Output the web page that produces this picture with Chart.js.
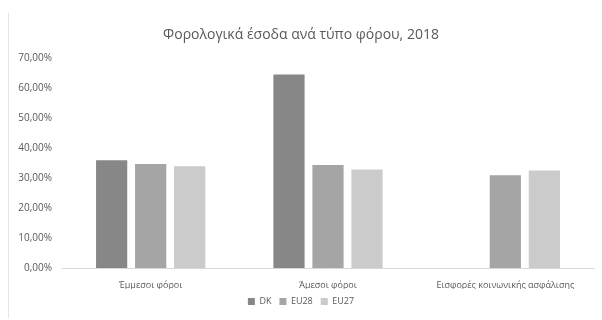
<!DOCTYPE html>
<html>
<head>
<meta charset="utf-8">
<script src="https://cdn.jsdelivr.net/npm/chart.js@4/dist/chart.umd.min.js"></script>
<style>
  html, body { margin: 0; padding: 0; background: #fff; }
  #wrap { position: relative; width: 602px; height: 320px; }
  #edge { position: absolute; left: 8px; top: 13px; width: 1px; height: 305px; background: #e6e6e6; }
  canvas { position: absolute; left: 0; top: 0; }
</style>
</head>
<body>
<div id="wrap">
  <div id="edge"></div>
  <canvas id="taxChart" width="602" height="320"></canvas>
</div>
<script>
'use strict';

// ── Data ─────────────────────────────────────────────────────
const categories = ['Έμμεσοι φόροι', 'Άμεσοι φόροι', 'Εισφορές κοινωνικής ασφάλισης'];
const seriesNames = ['DK', 'EU28', 'EU27'];
const dkValues   = [35.9, 64.4, null];
const eu28Values = [34.6, 34.3, 30.9];
const eu27Values = [33.9, 32.8, 32.5];
const yTicks = [0, 10, 20, 30, 40, 50, 60, 70];

const colors = ['#878787', '#a5a5a5', '#cbcbcb'];
const textGrey = '#595959';
const fontFamily = '"Open Sans", "Noto Sans", sans-serif';

const fmtPct = v => v.toFixed(2).replace('.', ',') + '%';

// ── Chart ────────────────────────────────────────────────────
const ctx = document.getElementById('taxChart');
new Chart(ctx, {
  type: 'bar',
  data: {
    labels: categories,
    datasets: [dkValues, eu28Values, eu27Values].map((data, i) => ({
      label: seriesNames[i],
      data,
      backgroundColor: colors[i],
      borderWidth: 0,
      categoryPercentage: 0.66,
      barPercentage: 0.8
    }))
  },
  options: {
    responsive: false,
    animation: false,
    layout: { padding: { left: 8, right: 8, top: 0, bottom: 4 } },
    scales: {
      x: {
        grid: { display: false, drawTicks: false },
        border: { display: true, color: '#d9d9d9', width: 1 },
        ticks: { color: textGrey, font: { family: fontFamily, size: 9 }, padding: 12, maxRotation: 0 },
        afterFit: s => { s.height = 21; }
      },
      y: {
        min: 0,
        max: 70,
        afterBuildTicks: s => { s.ticks = yTicks.map(v => ({ value: v })); },
        grid: { display: false, drawTicks: false },
        border: { display: false },
        ticks: {
          color: textGrey,
          font: { family: fontFamily, size: 10 },
          padding: 10,
          callback: v => fmtPct(v)
        },
        afterFit: s => { s.width = 54; }
      }
    },
    plugins: {
      title: {
        display: true,
        text: 'Φορολογικά έσοδα ανά τύπο φόρου, 2018',
        color: textGrey,
        font: { family: fontFamily, size: 14, weight: 'normal' },
        padding: { top: 27, bottom: 14 }
      },
      legend: {
        position: 'bottom',
        labels: {
          color: textGrey,
          font: { family: fontFamily, size: 9 },
          boxWidth: 7,
          boxHeight: 7,
          padding: 8
        }
      },
      tooltip: { enabled: false }
    }
  }
});
</script>
</body>
</html>
